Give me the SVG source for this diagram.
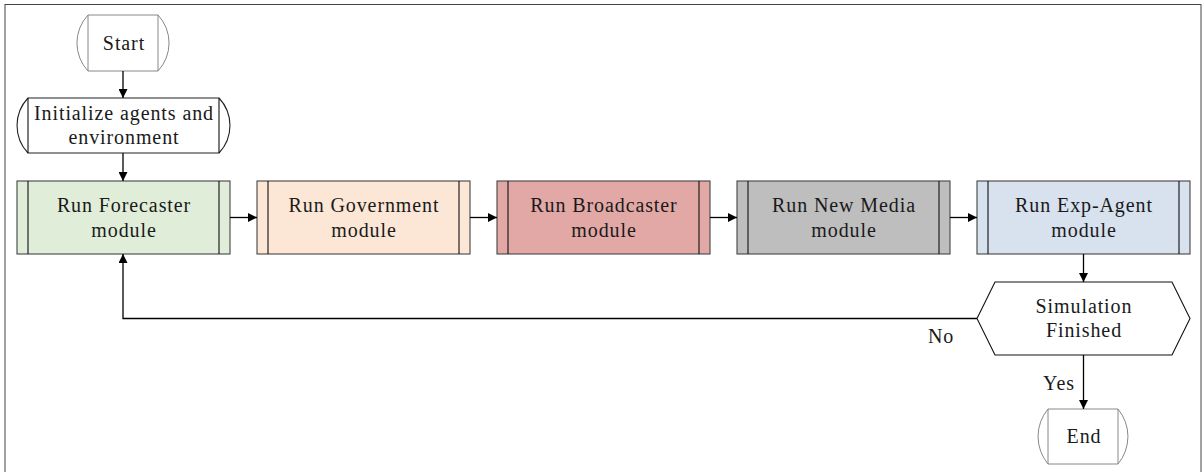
<svg xmlns="http://www.w3.org/2000/svg" width="1203" height="472" viewBox="0 0 1203 472">
<style>
text{font-family:"Liberation Serif","DejaVu Serif",serif;font-size:20px;letter-spacing:0.9px;fill:#1a1a1a;text-anchor:middle}
.term{fill:#fff;stroke:#888;stroke-width:1}
.termb{fill:#fff;stroke:#222;stroke-width:1.1}
.box{stroke:#444;stroke-width:1.1}
.inner{stroke:#111;stroke-width:1.1;fill:none}
.conn{fill:none;stroke:#000;stroke-width:1.3}
</style>
<defs>
<marker id="arr" viewBox="0 0 10 10" refX="10" refY="5" markerWidth="9" markerHeight="9" markerUnits="userSpaceOnUse" orient="auto">
<path d="M0,0 L10,5 L0,10 Z" fill="#000"/>
</marker>
</defs>
<rect x="5" y="4.5" width="1196" height="470" fill="#fff" stroke="#444" stroke-width="1"/>

<g id="start">
<path class="term" d="M88,15 H158 A41,41 0 0 1 158,71 H88 A41,41 0 0 1 88,15 Z"/>
<path class="term" d="M88,15 V71 M158,15 V71"/>
<text x="124" y="50">Start</text>
</g>

<g id="init">
<path class="termb" d="M28,98 H219 A40,40 0 0 1 219,153 H28 A40,40 0 0 1 28,98 Z"/>
<path class="inner" d="M28,98 V153 M219,98 V153"/>
<text x="124" y="120">Initialize agents and</text>
<text x="124" y="144">environment</text>
</g>

<g id="forecaster">
<rect class="box" x="17" y="181" width="213" height="73" fill="#e0eed9"/>
<path class="inner" d="M28,181 V254 M219,181 V254"/>
<text x="124" y="212">Run Forecaster</text>
<text x="124" y="237">module</text>
</g>

<g id="government">
<rect class="box" x="257" y="181" width="213" height="73" fill="#fce6d6"/>
<path class="inner" d="M268,181 V254 M459,181 V254"/>
<text x="364" y="212">Run Government</text>
<text x="364" y="237">module</text>
</g>

<g id="broadcaster">
<rect class="box" x="497" y="181" width="213" height="73" fill="#e2a8a6"/>
<path class="inner" d="M508,181 V254 M699,181 V254"/>
<text x="604" y="212">Run Broadcaster</text>
<text x="604" y="237">module</text>
</g>

<g id="newmedia">
<rect class="box" x="737" y="181" width="213" height="73" fill="#bebebe"/>
<path class="inner" d="M748,181 V254 M939,181 V254"/>
<text x="844" y="212">Run New Media</text>
<text x="844" y="237">module</text>
</g>

<g id="expagent">
<rect class="box" x="977" y="181" width="213" height="73" fill="#d8e1ee"/>
<path class="inner" d="M988,181 V254 M1179,181 V254"/>
<text x="1084" y="212">Run Exp-Agent</text>
<text x="1084" y="237">module</text>
</g>

<g id="decision">
<path d="M995,282 H1172 L1190,318.5 L1172,355 H995 L977,318.5 Z" fill="#fff" stroke="#111" stroke-width="1.1"/>
<text x="1084" y="313">Simulation</text>
<text x="1084" y="337">Finished</text>
</g>

<g id="end">
<path class="term" d="M1048,409 H1118 A43,43 0 0 1 1118,464 H1048 A43,43 0 0 1 1048,409 Z"/>
<path class="term" d="M1048,409 V464 M1118,409 V464"/>
<text x="1084" y="443">End</text>
</g>

<g id="connectors">
<path class="conn" d="M123,71 V98" marker-end="url(#arr)"/>
<path class="conn" d="M123,153 V181" marker-end="url(#arr)"/>
<path class="conn" d="M230,217.5 H257" marker-end="url(#arr)"/>
<path class="conn" d="M470,217.5 H497" marker-end="url(#arr)"/>
<path class="conn" d="M710,217.5 H737" marker-end="url(#arr)"/>
<path class="conn" d="M950,217.5 H977" marker-end="url(#arr)"/>
<path class="conn" d="M1083.5,254 V282" marker-end="url(#arr)"/>
<path class="conn" d="M977,318.5 H123 V254" marker-end="url(#arr)"/>
<path class="conn" d="M1083.5,355 V409" marker-end="url(#arr)"/>
<text x="941" y="343">No</text>
<text x="1059" y="390">Yes</text>
</g>
</svg>
